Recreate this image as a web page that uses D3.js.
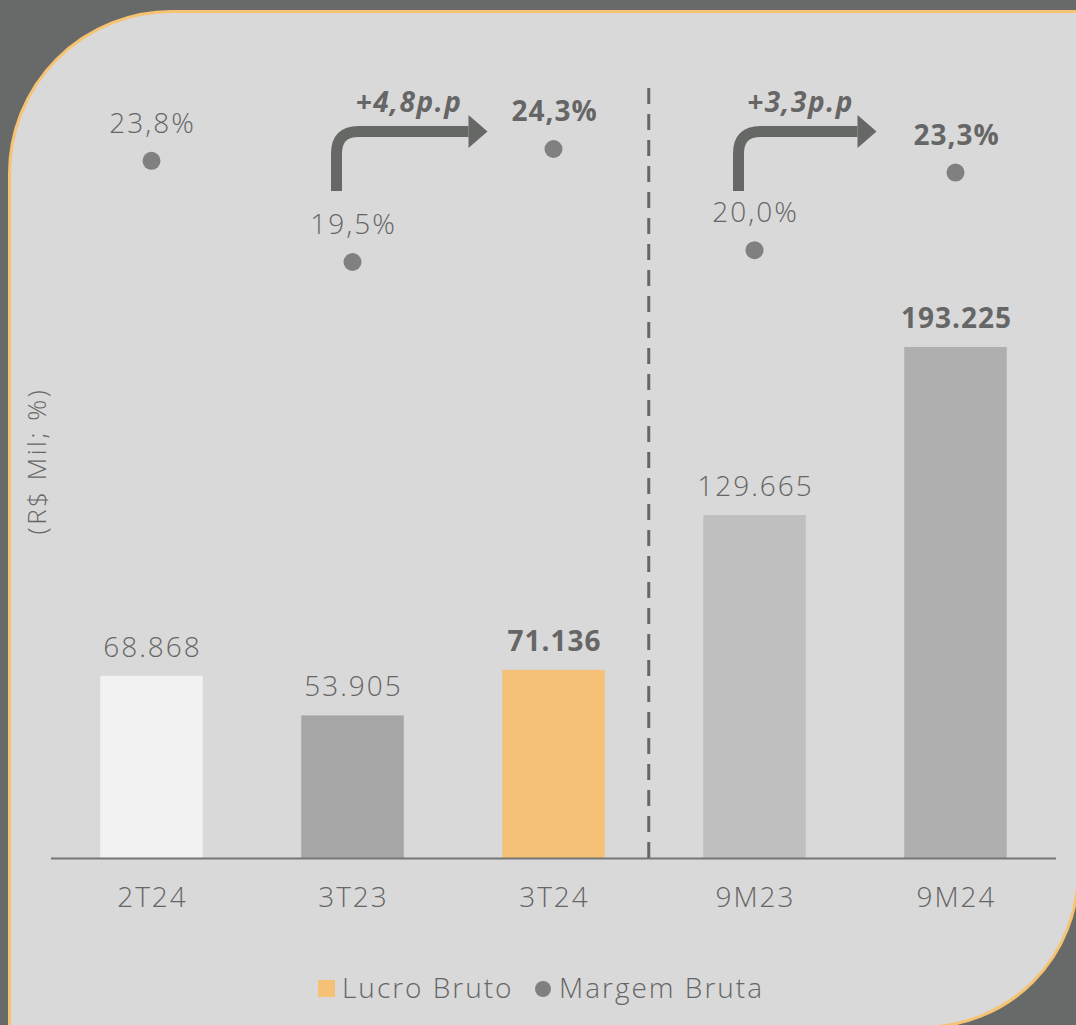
<!DOCTYPE html>
<html>
<head>
<meta charset="utf-8">
<script src="https://cdn.jsdelivr.net/npm/d3@7"></script>
<style>
  html, body { margin: 0; padding: 0; background: #686a69; }
  svg { display: block; }
  text { font-family: "Open Sans", sans-serif; fill: #666; }
</style>
</head>
<body>
<div id="chart"></div>
<script>
// chart data
const categories = ["2T24", "3T23", "3T24", "9M23", "9M24"];
const lucroBruto = [68868, 53905, 71136, 129665, 193225];
const margemBruta = [23.8, 19.5, 24.3, 20.0, 23.3];
const barColors = ["#f2f2f2", "#a6a6a6", "#f4c177", "#bfbfbf", "#afafaf"];
const boldLabels = [false, false, true, false, true];
// variation arrows: from category -> to category
const arrowFrom = ["3T23", "9M23"];
const arrowTo = ["3T24", "9M24"];
const arrowLabels = ["+4,8p.p", "+3,3p.p"];
const legendLabels = ["Lucro Bruto", "Margem Bruta"];

const width = 1076, height = 1025;
const baseY = 858;

const br = d3.formatLocale({ decimal: ",", thousands: ".", grouping: [3], currency: ["R$", ""] });
const fmtValue = br.format(",.0f");
const fmtPct = v => br.format(".1f")(v) + "%";

// light text is drawn a bit spaced out, the original font is wider
const lightStyle = sel => sel
  .style("font-size", "28px")
  .style("font-weight", 300)
  .style("letter-spacing", "2px");
const boldStyle = sel => sel
  .style("font-size", "28px")
  .style("font-weight", 700)
  .style("letter-spacing", "1px");

const svg = d3.select("#chart").append("svg")
  .attr("width", width)
  .attr("height", height);

// panel with rounded top-left and bottom-right corners
const L = 9.5, T = 11.5, R = 1076 + 2, B = 1027, r1 = 162, r2 = 154;
svg.append("path")
  .attr("d", `M${L},${T + r1} A${r1},${r1} 0 0 1 ${L + r1},${T} L${R},${T} L${R},${B - r2} A${r2},${r2} 0 0 1 ${R - r2},${B} L${L},${B} Z`)
  .attr("fill", "#d9d9d9")
  .attr("stroke", "#f5c371")
  .attr("stroke-width", 3);

// scales
const x = d3.scaleBand()
  .domain(categories)
  .range([51, 1056])
  .paddingInner(0.49)
  .paddingOuter(0.245);

const y = d3.scaleLinear()
  .domain([0, 200000])
  .range([baseY, baseY - 529]);

const yM = d3.scaleLinear()
  .domain([19.5, 24.3])
  .range([262, 149]);

const cx = c => x(c) + x.bandwidth() / 2;

// bars
svg.append("g").selectAll("rect")
  .data(categories)
  .join("rect")
  .attr("x", d => x(d))
  .attr("y", (d, i) => y(lucroBruto[i]))
  .attr("width", x.bandwidth())
  .attr("height", (d, i) => baseY - y(lucroBruto[i]))
  .attr("fill", (d, i) => barColors[i]);

// bar value labels
svg.append("g").selectAll("text")
  .data(categories)
  .join("text")
  .attr("x", d => cx(d) + 1)
  .attr("y", (d, i) => y(lucroBruto[i]) - 19)
  .attr("text-anchor", "middle")
  .each(function(d, i) { d3.select(this).call(boldLabels[i] ? boldStyle : lightStyle); })
  .text((d, i) => fmtValue(lucroBruto[i]));

// x axis
const xAxis = svg.append("g")
  .attr("transform", `translate(0,${baseY})`)
  .call(d3.axisBottom(x).tickSize(0).tickPadding(0));
xAxis.select(".domain").remove();
svg.append("line")
  .attr("x1", 51).attr("x2", 1056)
  .attr("y1", baseY + 0.5).attr("y2", baseY + 0.5)
  .attr("stroke", "#767676")
  .attr("stroke-width", 2);
xAxis.selectAll("text")
  .attr("x", 1)
  .attr("y", 49)
  .attr("dy", 0)
  .style("font-family", '"Open Sans", sans-serif')
  .style("fill", "#666")
  .call(lightStyle);

// separator between quarters and 9 months
const sepX = x("3T24") + x.bandwidth() + 44;
svg.append("line")
  .attr("x1", sepX).attr("x2", sepX)
  .attr("y1", 88).attr("y2", baseY)
  .attr("stroke", "#666")
  .attr("stroke-width", 3)
  .attr("stroke-dasharray", "16,10");

// margin points
svg.append("g").selectAll("circle")
  .data(categories)
  .join("circle")
  .attr("cx", d => cx(d))
  .attr("cy", (d, i) => yM(margemBruta[i]))
  .attr("r", 9)
  .attr("fill", "#808080");

svg.append("g").selectAll("text")
  .data(categories)
  .join("text")
  .attr("x", d => cx(d) + 1)
  .attr("y", (d, i) => yM(margemBruta[i]) - 28)
  .attr("text-anchor", "middle")
  .each(function(d, i) { d3.select(this).call(boldLabels[i] ? boldStyle : lightStyle); })
  .text((d, i) => fmtPct(margemBruta[i]));

// variation arrows
const arrowY = 131.5, stemBottom = 191, rad = 22, headLen = 19, headHalf = 16.5;
arrowFrom.forEach((from, i) => {
  const sx = cx(from) - 16;
  const tipX = i === 0 ? cx(arrowTo[i]) - 66 : cx(arrowTo[i]) - 79;
  const g = svg.append("g");
  g.append("path")
    .attr("d", `M${sx},${stemBottom} L${sx},${arrowY + rad} Q${sx},${arrowY} ${sx + rad},${arrowY} L${tipX - headLen},${arrowY}`)
    .attr("fill", "none")
    .attr("stroke", "#666866")
    .attr("stroke-width", 11);
  g.append("path")
    .attr("d", `M${tipX - headLen},${arrowY - headHalf} L${tipX},${arrowY} L${tipX - headLen},${arrowY + headHalf} Z`)
    .attr("fill", "#666866");
  g.append("text")
    .attr("x", (sx + tipX) / 2 + (i === 0 ? -3 : -7))
    .attr("y", 112)
    .attr("text-anchor", "middle")
    .style("font-size", "28px")
    .style("font-weight", 700)
    .style("font-style", "italic")
    .style("letter-spacing", "1.5px")
    .text(arrowLabels[i]);
});

// y axis title
svg.append("text")
  .attr("transform", "translate(46,461) rotate(-90)")
  .attr("text-anchor", "middle")
  .style("font-size", "26px")
  .style("font-weight", 300)
  .style("letter-spacing", "2.5px")
  .text("(R$ Mil; %)");

// legend
const legend = svg.append("g");
legend.append("rect")
  .attr("x", 318).attr("y", 980)
  .attr("width", 17).attr("height", 17)
  .attr("fill", barColors[2]);
legend.append("text")
  .attr("x", 342).attr("y", 998)
  .call(lightStyle)
  .text(legendLabels[0]);
legend.append("circle")
  .attr("cx", 543).attr("cy", 989)
  .attr("r", 8)
  .attr("fill", "#808080");
legend.append("text")
  .attr("x", 559).attr("y", 998)
  .call(lightStyle)
  .text(legendLabels[1]);
</script>
</body>
</html>
